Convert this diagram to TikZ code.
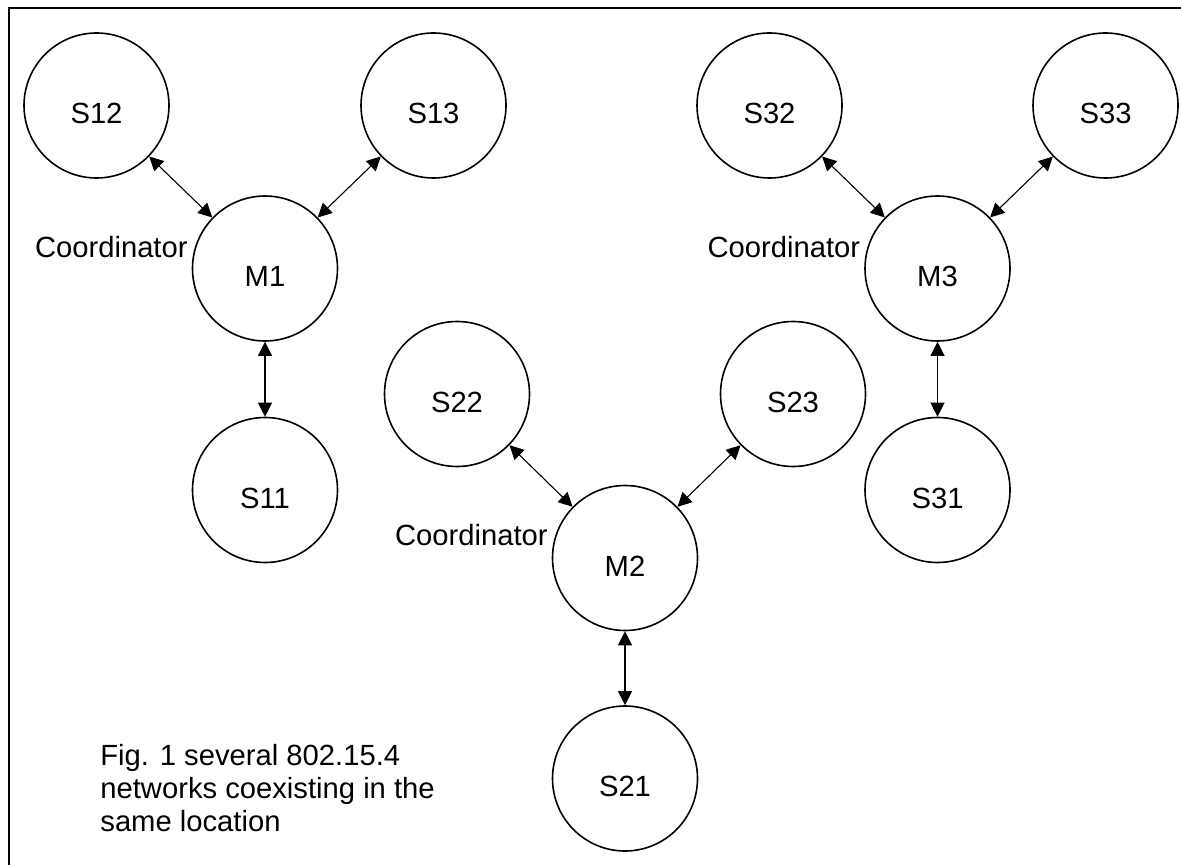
\documentclass[tikz,border=0pt]{standalone}
\usepackage{fontspec}
\setmainfont{Liberation Sans}
\usetikzlibrary{arrows.meta,calc}
\begin{document}
\begin{tikzpicture}[x=0.5pt,y=-0.5pt,
  station/.style={circle, draw, line width=0.8pt, minimum size=72.5pt, inner sep=0pt},
  lbl/.style={inner sep=0pt, font=\fontsize{14.6}{16.5}\selectfont},
  link/.style={{Triangle[length=7pt,width=7pt]}-{Triangle[length=7pt,width=7pt]}, line width=0.55pt},
  frame/.style={line width=0.9pt}]
\useasboundingbox (0,0) rectangle (1181,865);
\draw[frame] (9,865) -- (9,8) -- (1181,8);
% network 1
\node[station] (m1)  at (265,268.5) {};
\node[station] (s12) at (96.5,105.5) {};
\node[station] (s13) at (433.5,105.5) {};
\node[station] (s11) at (265,490) {};
% network 2
\node[station] (m2)  at (625,558) {};
\node[station] (s22) at (457,394) {};
\node[station] (s23) at (793,394) {};
\node[station] (s21) at (625,778.5) {};
% network 3
\node[station] (m3)  at (937.5,268.5) {};
\node[station] (s32) at (769.5,105.5) {};
\node[station] (s33) at (1105.5,105.5) {};
\node[station] (s31) at (937.5,490) {};
% labels
\foreach \n/\t in {m1/M1,s12/S12,s13/S13,s11/S11,m2/M2,s22/S22,s23/S23,s21/S21,m3/M3,s32/S32,s33/S33,s31/S31}
  \node[lbl] (l\n) at ($(\n.center)+(0,8)$) {\t};
\node[lbl, anchor=base east] (c1) at ($(m1.center)+(-77,-10.5)$) {Coordinator};
\node[lbl, anchor=base east] (c2) at ($(m2.center)+(-77,-13)$) {Coordinator};
\node[lbl, anchor=base east] (c3) at ($(m3.center)+(-77,-10.5)$) {Coordinator};
% links
\draw[link] (s12) -- (m1);
\draw[link] (s13) -- (m1);
\draw[link] (m1) -- (s11);
\draw[link] (s22) -- (m2);
\draw[link] (s23) -- (m2);
\draw[link] (m2) -- (s21);
\draw[link] (s32) -- (m3);
\draw[link] (s33) -- (m3);
\draw[link] (m3) -- (s31);
% caption
\node[lbl, anchor=base west] (cap1) at (100,765) {Fig. 1 several 802.15.4};
\node[lbl, anchor=base west] (cap2) at (100,798) {networks coexisting in the};
\node[lbl, anchor=base west] (cap3) at (100,831) {same location};
\end{tikzpicture}
\end{document}
